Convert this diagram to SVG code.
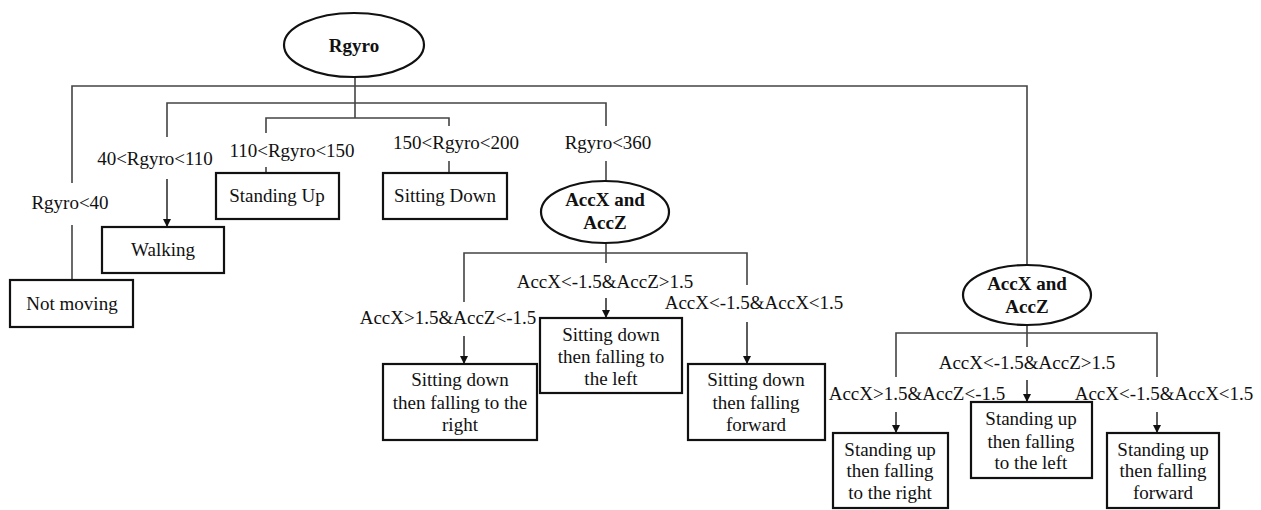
<svg xmlns="http://www.w3.org/2000/svg" width="1261" height="510" viewBox="0 0 1261 510">
<defs>
<marker id="arr" viewBox="0 0 10 10" refX="10" refY="5" markerWidth="8" markerHeight="8" markerUnits="userSpaceOnUse" orient="auto">
<path d="M0,0 L10,5 L0,10 z" fill="#111"/>
</marker>
<style>
text{font-family:"Liberation Serif","Times New Roman",serif;font-size:19px;fill:#111;text-anchor:middle}
.b{font-weight:bold}
.box{fill:#fff;stroke:#111;stroke-width:2.2}
.ell{fill:#fff;stroke:#111;stroke-width:2.2}
.c{fill:none;stroke:#444;stroke-width:1.6}
.a{fill:none;stroke:#333;stroke-width:1.6;marker-end:url(#arr)}
</style>
</defs>
<rect width="1261" height="510" fill="#fff"/>
<g id="connectors">
<path class="c" d="M355,77 V118"/>
<path class="c" d="M72,183 V86 H1027 V265"/>
<path class="c" d="M72,225 V280"/>
<path class="c" d="M167,137 V103 H606 V126"/>
<path class="a" d="M167,179 V227"/>
<path class="c" d="M266,133 V118 H449 V126"/>
<path class="c" d="M266,167 V173"/>
<path class="c" d="M449,161 V173"/>
<path class="c" d="M606,161 V182"/>
<path class="c" d="M606,243 V253"/>
<path class="c" d="M464,302 V253 H747 V285"/>
<path class="c" d="M606,253 V263"/>
<path class="a" d="M464,336 V364"/>
<path class="a" d="M606,298 V318"/>
<path class="a" d="M747,322 V364"/>
<path class="c" d="M1027,325 V347"/>
<path class="c" d="M896,377 V333 H1157 V377"/>
<path class="a" d="M896,412 V433"/>
<path class="a" d="M1027,380 V402"/>
<path class="a" d="M1157,412 V433"/>
<text x="70" y="209">Rgyro&lt;40</text>
<text x="155" y="165">40&lt;Rgyro&lt;110</text>
<text x="292" y="157">110&lt;Rgyro&lt;150</text>
<text x="456" y="149">150&lt;Rgyro&lt;200</text>
<text x="608" y="149">Rgyro&lt;360</text>
<text x="448" y="324">AccX&gt;1.5&amp;AccZ&lt;-1.5</text>
<text x="605" y="288">AccX&lt;-1.5&amp;AccZ&gt;1.5</text>
<text x="754" y="309">AccX&lt;-1.5&amp;AccX&lt;1.5</text>
<text x="917" y="400">AccX&gt;1.5&amp;AccZ&lt;-1.5</text>
<text x="1027" y="369">AccX&lt;-1.5&amp;AccZ&gt;1.5</text>
<text x="1164" y="400">AccX&lt;-1.5&amp;AccX&lt;1.5</text>
</g>
<g id="rgyro">
<ellipse class="ell" cx="354" cy="45" rx="70" ry="32"/>
<text class="b" x="354" y="52">Rgyro</text>
</g>
<g id="not-moving">
<rect class="box" x="10" y="280" width="123" height="47"/>
<text x="72" y="310">Not moving</text>
</g>
<g id="walking">
<rect class="box" x="102" y="227" width="122" height="46"/>
<text x="163" y="256">Walking</text>
</g>
<g id="standing-up">
<rect class="box" x="216" y="173" width="123" height="46"/>
<text x="277" y="202">Standing Up</text>
</g>
<g id="sitting-down">
<rect class="box" x="383" y="173" width="124" height="46"/>
<text x="445" y="202">Sitting Down</text>
</g>
<g id="acc1">
<ellipse class="ell" cx="605" cy="212" rx="64" ry="31"/>
<text class="b" x="605" y="206">AccX and</text>
<text class="b" x="605" y="229">AccZ</text>
</g>
<g id="sd-right">
<rect class="box" x="383" y="364" width="154" height="76"/>
<text x="460" y="386">Sitting down</text>
<text x="460" y="409">then falling to the</text>
<text x="460" y="431">right</text>
</g>
<g id="sd-left">
<rect class="box" x="540" y="318" width="142" height="75"/>
<text x="611" y="341">Sitting down</text>
<text x="611" y="363">then falling to</text>
<text x="611" y="385">the left</text>
</g>
<g id="sd-forward">
<rect class="box" x="688" y="364" width="137" height="76"/>
<text x="756" y="386">Sitting down</text>
<text x="756" y="409">then falling</text>
<text x="756" y="431">forward</text>
</g>
<g id="acc2">
<ellipse class="ell" cx="1027" cy="295" rx="64" ry="30"/>
<text class="b" x="1027" y="290">AccX and</text>
<text class="b" x="1027" y="313">AccZ</text>
</g>
<g id="su-right">
<rect class="box" x="833" y="433" width="115" height="75"/>
<text x="890" y="456">Standing up</text>
<text x="890" y="477">then falling</text>
<text x="890" y="499">to the right</text>
</g>
<g id="su-left">
<rect class="box" x="971" y="402" width="121" height="76"/>
<text x="1031" y="425">Standing up</text>
<text x="1031" y="448">then falling</text>
<text x="1031" y="469">to the left</text>
</g>
<g id="su-forward">
<rect class="box" x="1107" y="433" width="112" height="75"/>
<text x="1163" y="456">Standing up</text>
<text x="1163" y="477">then falling</text>
<text x="1163" y="499">forward</text>
</g>
</svg>
